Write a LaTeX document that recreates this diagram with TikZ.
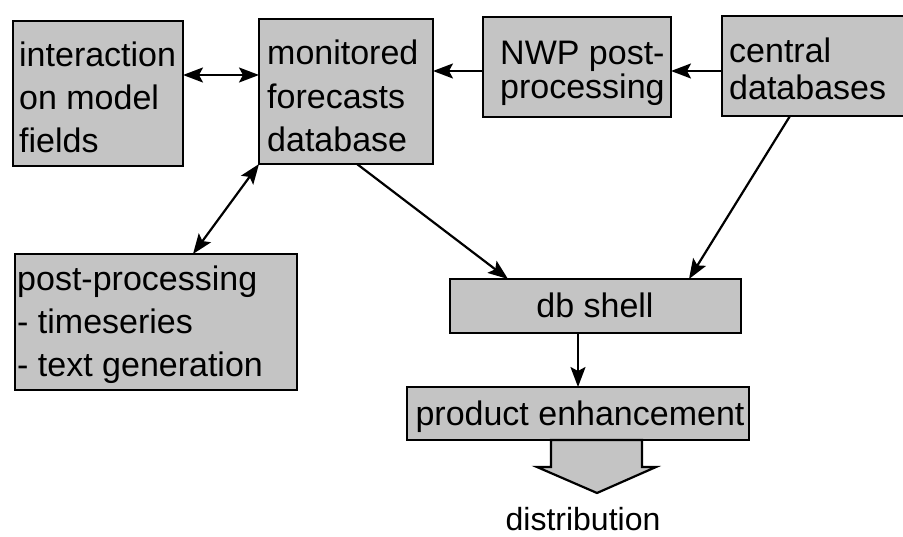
\documentclass[tikz,border=0pt]{standalone}
\usepackage{fontspec}
\setmainfont{Liberation Sans}
\usetikzlibrary{arrows.meta}
\definecolor{boxgray}{RGB}{196,196,196}
\newcommand\mylines[2]{\vtop{\baselineskip=#1\relax #2}}
\tikzset{
  box/.style={draw, fill=boxgray, line width=2.2pt, inner sep=0pt, outer sep=0pt, anchor=north west},
  lbl/.style={inner sep=0pt, font=\fontsize{34}{43}\selectfont},
  arr/.style={line width=2.2pt, -{Stealth[length=20pt, width=15pt, inset=4pt]}},
  dbl/.style={line width=2.2pt, {Stealth[length=20pt, width=15pt, inset=4pt]}-{Stealth[length=20pt, width=15pt, inset=4pt]}},
  bigarrow/.style={draw, fill=boxgray, line width=2.2pt, line join=miter}
}
\begin{document}
\begin{tikzpicture}[x=1pt, y=-1pt]
\useasboundingbox (0,0) rectangle (903,537);
% boxes
\node[box, minimum width=170pt, minimum height=145pt] (A) at (13,21) {};
\node[box, minimum width=174pt, minimum height=145pt] (B) at (259,19) {};
\node[box, minimum width=188pt, minimum height=100pt] (C) at (483,17) {};
\node[box, minimum width=190pt, minimum height=100pt] (D) at (722,16) {};
\node[box, minimum width=282pt, minimum height=136pt] (E) at (15,254) {};
\node[box, minimum width=291pt, minimum height=54pt] (F) at (450,279) {};
\node[box, minimum width=342pt, minimum height=53pt] (G) at (407,387) {};
% big arrow
\draw[bigarrow] (551,440) -- (551,467) -- (537,467) -- (597,493) -- (656,467) -- (642,467) -- (642,440) -- cycle;
% texts
\node[lbl, anchor=base west] (tA) at (19,67) {\mylines{43pt}{\hbox{interaction}\hbox{on model}\hbox{fields}}};
\node[lbl, anchor=base west] (tB) at (267,65) {\mylines{43.5pt}{\hbox{monitored}\hbox{forecasts}\hbox{database}}};
\node[lbl, anchor=base west] (tC) at (500,65) {\mylines{34pt}{\hbox{NWP post-}\hbox{processing}}};
\node[lbl, anchor=base west] (tD) at (729,63) {\mylines{37pt}{\hbox{central}\hbox{databases}}};
\node[lbl, anchor=base west] (tE) at (17,291) {\mylines{43pt}{\hbox{post-processing}\hbox{- timeseries}\hbox{- text generation}}};
\node[lbl, anchor=base] (tF) at (595,318) {db shell};
\node[lbl, anchor=base] (tG) at (580,425) {product enhancement};
\node[lbl, anchor=base, font=\fontsize{32}{40}\selectfont] (dist) at (583,530) {distribution};
% helper coordinates
\coordinate (r1) at (0,75);
\coordinate (r2) at (0,71);
\coordinate (c1) at (193,0);
\coordinate (c2) at (357,0);
\coordinate (c3) at (508,0);
\coordinate (c4) at (790,0);
\coordinate (c5) at (689,0);
% connectors
\draw[dbl] (A.east |- r1) -- (B.west |- r1);
\draw[arr] (C.west |- r2) -- (B.east |- r2);
\draw[arr] (D.west |- r2) -- (C.east |- r2);
\draw[dbl] (B.south west) -- (E.north -| c1);
\draw[arr] (B.south -| c2) -- (F.north -| c3);
\draw[arr] (D.south -| c4) -- (F.north -| c5);
\draw[arr] (F.south -| G.north) -- (G.north);
\end{tikzpicture}
\end{document}
